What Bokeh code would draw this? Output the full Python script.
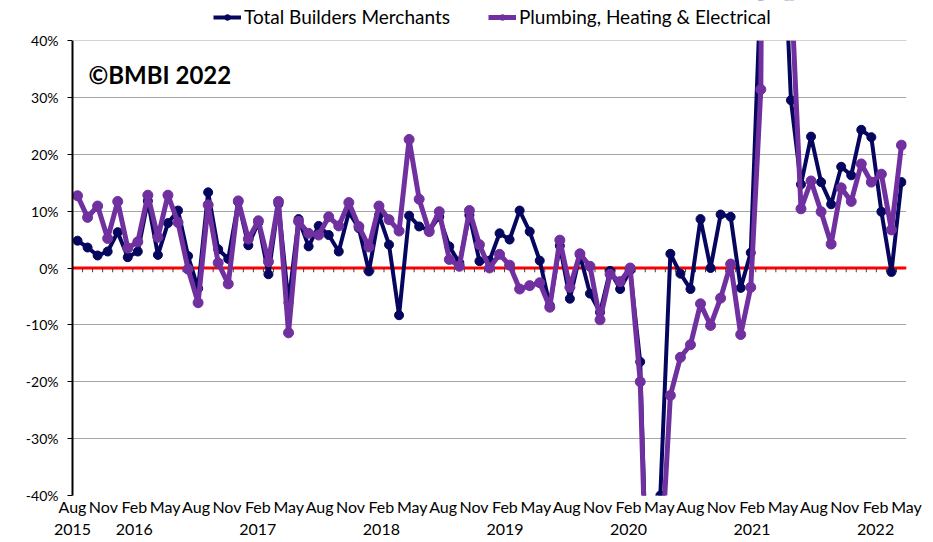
import pandas as pd
from bokeh.plotting import figure
from bokeh.models import (ColumnDataSource, Range1d, LinearAxis, FixedTicker, PrintfTickFormatter,
                          Span, Legend, LegendItem, Label, BoxAnnotation)
from bokeh.embed import file_html
from bokeh.resources import INLINE

# ---------------- data (year-on-year % change) ----------------
months = pd.date_range("2015-07-01", periods=83, freq="MS").strftime("%b %Y").tolist()

total_builders = [
    4.8, 3.6, 2.2, 2.9, 6.3, 1.9, 2.9, 11.8, 2.3, 7.9, 10.1, 2.1, -3.6, 13.3, 3.3, 1.6,
    11.6, 4.0, 8.0, -1.1, 11.3, -6.1, 8.6, 3.8, 7.4, 5.8, 2.9, 9.8, 7.0, -0.6, 9.3, 4.1,
    -8.3, 9.2, 7.3, 6.6, 9.0, 3.8, 0.9, 9.3, 1.2, 1.3, 6.1, 5.0, 10.1, 6.4, 1.3, -6.6,
    3.9, -5.4, 2.3, -4.5, -7.8, -0.5, -3.7, -0.4, -16.5, -76.0, -40.0, 2.5, -1.0, -3.7,
    8.6, 0.0, 9.4, 9.0, -3.5, 2.7, 50.0, 280.0, 70.0, 29.5, 14.7, 23.1, 15.1, 11.2,
    17.8, 16.3, 24.3, 23.0, 9.9, -0.7, 15.1,
]

plumbing_heating = [
    12.7, 8.9, 10.9, 5.2, 11.7, 3.5, 4.6, 12.8, 5.4, 12.8, 8.0, -0.2, -6.1, 11.1, 0.9, -2.8,
    11.8, 5.1, 8.3, 1.1, 11.7, -11.4, 8.2, 6.1, 5.8, 9.0, 7.4, 11.5, 7.3, 3.7, 10.9, 8.5,
    6.5, 22.6, 12.1, 6.4, 9.9, 1.5, 0.3, 10.1, 4.1, 0.0, 2.4, 0.5, -3.7, -3.1, -2.6, -6.9,
    4.9, -3.4, 2.5, 0.3, -9.1, -1.1, -2.4, 0.0, -20.0, -79.0, -54.0, -22.4, -15.7, -13.5,
    -6.3, -10.1, -5.3, 0.7, -11.7, -3.4, 31.4, 300.0, 80.0, 50.0, 10.4, 15.3, 9.9, 4.2,
    14.1, 11.7, 18.3, 15.1, 16.5, 6.7, 21.6,
]

series_names = ["Total Builders Merchants", "Plumbing, Heating & Electrical"]
y_ticks = [-40, -30, -20, -10, 0, 10, 20, 30, 40]
y_min, y_max = -40, 40

# axis labels: every third month starting Aug 2015; year shown under its first label
label_months = [months[i] for i in range(1, len(months), 3)]
month_labels = [m.split()[0] for m in label_months]
label_years = [m.split()[1] for m in label_months]

NAVY = "#06065e"
PURPLE = "#7030a0"
FONT = "Lato"

# layout (pixels): plot area 455 px tall, with a 40 px strip above it for the legend
AREA_H, TOP_STRIP = 455, 40
y_top = y_max + (y_max - y_min) * TOP_STRIP / AREA_H

N = len(months)
idx = list(range(N))
src = ColumnDataSource(dict(x=idx, total=total_builders, phe=plumbing_heating, month=months))

p = figure(width=933, height=542, output_backend="svg", toolbar_location=None,
           x_range=Range1d(-0.5, N - 0.5), y_range=Range1d(y_min, y_top),
           x_axis_location=None, y_axis_location="left",
           min_border_left=72, min_border_right=27, min_border_top=0, min_border_bottom=47)
p.outline_line_color = None
p.background_fill_color = "white"
p.xgrid.visible = False

# y axis
p.yaxis.ticker = FixedTicker(ticks=y_ticks)
p.yaxis.bounds = (y_min, y_max)
p.yaxis.formatter = PrintfTickFormatter(format="%d%%")
p.yaxis.axis_line_color = "black"
p.yaxis.axis_line_width = 2
p.yaxis.major_tick_line_color = "black"
p.yaxis.major_tick_line_width = 1
p.yaxis.major_tick_out = 5
p.yaxis.major_tick_in = 0
p.yaxis.minor_tick_line_color = None
p.yaxis.major_label_text_font = FONT
p.yaxis.major_label_text_font_size = "14px"
p.yaxis.major_label_text_color = "black"
p.yaxis.major_label_standoff = 9
p.ygrid.ticker = FixedTicker(ticks=y_ticks)
p.ygrid.grid_line_color = "#a6a6a6"
p.ygrid.grid_line_width = 1

# x labels (month, with year on a second line), spread evenly across the plot width
p.extra_x_ranges = {"lab": Range1d(0, len(month_labels) - 1)}
overrides, seen = {}, set()
for k, (m, yv) in enumerate(zip(month_labels, label_years)):
    if yv not in seen:
        seen.add(yv)
        overrides[k] = m + "\n" + yv
    else:
        overrides[k] = m
xaxis = LinearAxis(x_range_name="lab", ticker=FixedTicker(ticks=list(range(len(month_labels)))),
                   major_label_overrides=overrides)
xaxis.axis_line_color = None
xaxis.major_tick_line_color = None
xaxis.minor_tick_line_color = None
xaxis.major_tick_out = 0
xaxis.major_tick_in = 0
xaxis.major_label_text_font = FONT
xaxis.major_label_text_font_size = "16px"
xaxis.major_label_text_color = "black"
xaxis.major_label_standoff = 1
p.add_layout(xaxis, "below")

# zero axis line with category tick marks
bounds = [i + 0.5 for i in idx[:-1]]
p.segment(x0=bounds, y0=[0] * len(bounds), x1=bounds, y1=[-0.75] * len(bounds),
          line_color="#404040", line_width=1)
p.add_layout(Span(location=0, dimension="width", line_color="#ff0000",
                  line_width=3, level="underlay"))

# series
r1 = p.line("x", "total", source=src, line_color=NAVY, line_width=4, line_join="round")
s1 = p.scatter("x", "total", source=src, size=9, fill_color=NAVY, line_color=NAVY)
r2 = p.line("x", "phe", source=src, line_color=PURPLE, line_width=5, line_join="round")
s2 = p.scatter("x", "phe", source=src, size=10, fill_color=PURPLE, line_color=PURPLE)

# plot area ends at 40%: blank out the strip above it (legend sits there)
p.add_layout(BoxAnnotation(bottom=y_max, top=y_top * 10, left=-10, right=N + 10,
                           fill_color="white", fill_alpha=1.0, line_color=None,
                           level="overlay"))

legend = Legend(items=[LegendItem(label=series_names[0], renderers=[r1, s1]),
                       LegendItem(label=series_names[1], renderers=[r2, s2])],
                orientation="horizontal", location=(141, 467),
                glyph_width=28, glyph_height=14, label_standoff=3, spacing=38,
                padding=0, margin=0, border_line_color=None, background_fill_alpha=0,
                label_text_font=FONT, label_text_font_size="19px", label_text_color="black",
                level="overlay")
p.add_layout(legend, "center")

p.add_layout(Label(x=16, y=421.5, x_units="screen", y_units="screen", text="©BMBI 2022",
                   text_font=FONT, text_font_style="bold", text_font_size="24px",
                   text_baseline="middle", text_color="black"))

open("out.html", "w").write(file_html(p, INLINE))
